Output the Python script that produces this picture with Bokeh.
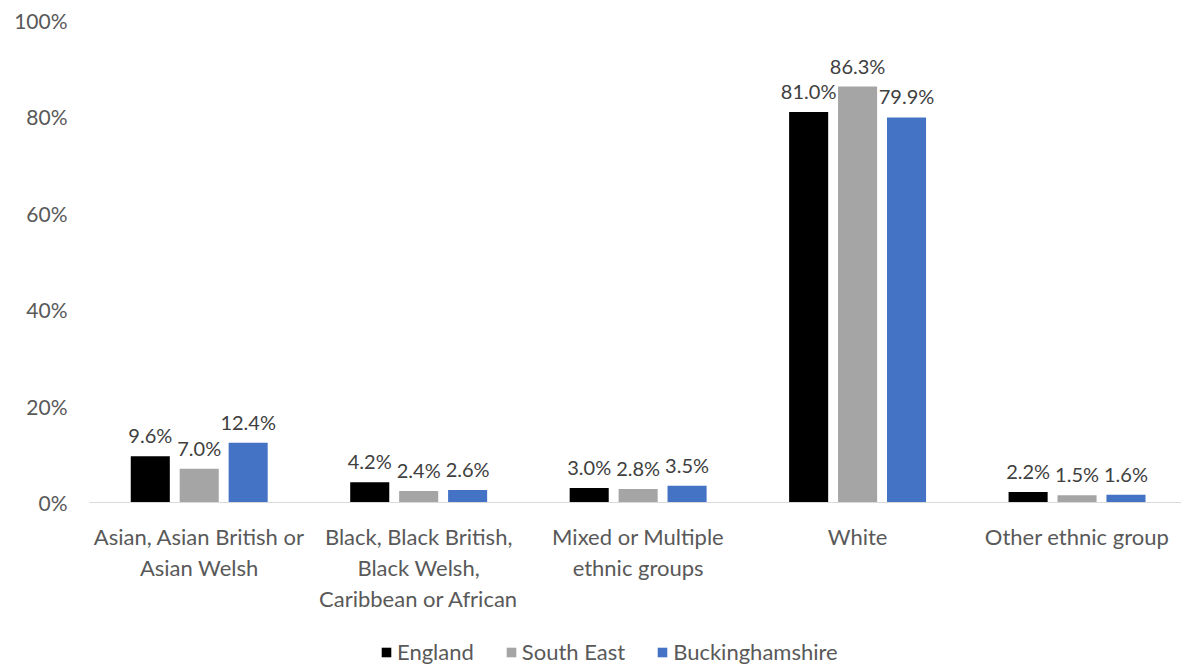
from bokeh.plotting import figure
from bokeh.layouts import column
from bokeh.models import FixedTicker, Legend, LegendItem, ColumnDataSource
from bokeh.core.properties import value
from bokeh.embed import file_html
from bokeh.resources import INLINE

categories = ["Asian, Asian British or\nAsian Welsh",
              "Black, Black British,\nBlack Welsh,\nCaribbean or African",
              "Mixed or Multiple\nethnic groups",
              "White",
              "Other ethnic group"]
series_names = ["England", "South East", "Buckinghamshire"]
england = [9.6, 4.2, 3.0, 81.0, 2.2]
south_east = [7.0, 2.4, 2.8, 86.3, 1.5]
bucks = [12.4, 2.6, 3.5, 79.9, 1.6]
y_ticks = [0, 20, 40, 60, 80, 100]

colors = ["#000000", "#a5a5a5", "#4472c4"]
FONT = "Lato"

p = figure(width=1181, height=615, output_backend="svg", toolbar_location=None,
           x_range=(-0.5, 4.476), y_range=(0, 100),
           min_border_left=89, min_border_right=0, min_border_top=20, min_border_bottom=111)
p.outline_line_color = None
p.grid.visible = False

xs = list(range(len(categories)))
offsets = [-0.223, 0.0, 0.223]
for vals, off, col in zip([england, south_east, bucks], offsets, colors):
    src = ColumnDataSource(dict(x=[x + off for x in xs], top=vals,
                                lab=["%.1f%%" % v for v in vals]))
    p.vbar(x="x", top="top", width=0.178, source=src, fill_color=col, line_color=None)
    p.text(x="x", y="top", text="lab", source=src, text_align="center", text_baseline="bottom",
           y_offset=-9, text_font=value(FONT), text_font_size="20px", text_color="#404040")

p.xaxis.ticker = FixedTicker(ticks=xs)
p.xaxis.major_label_overrides = {i: c for i, c in enumerate(categories)}
p.xaxis.major_tick_line_color = None
p.xaxis.minor_tick_line_color = None
p.xaxis.axis_line_color = "#d9d9d9"
p.xaxis.axis_line_width = 1
p.xaxis.major_label_text_font = FONT
p.xaxis.major_label_text_font_size = "22px"
p.xaxis.major_label_text_color = "#595959"
p.xaxis.major_label_text_line_height = 1.16
p.xaxis.major_label_standoff = 14

p.yaxis.ticker = FixedTicker(ticks=y_ticks)
p.yaxis.major_label_overrides = {t: "%d%%" % t for t in y_ticks}
p.yaxis.major_tick_line_color = None
p.yaxis.minor_tick_line_color = None
p.yaxis.axis_line_color = None
p.yaxis.major_label_text_font = FONT
p.yaxis.major_label_text_font_size = "21px"
p.yaxis.major_label_text_color = "#595959"
p.yaxis.major_label_standoff = 16

# legend strip below the chart
lg = figure(width=1181, height=50, output_backend="svg", toolbar_location=None,
            x_range=(0, 1), y_range=(0, 1), x_axis_location=None, y_axis_location=None,
            min_border_left=0, min_border_right=0, min_border_top=0, min_border_bottom=0)
lg.outline_line_color = None
lg.grid.visible = False
leg_renderers = []
for col in colors:
    # single off-range point so the renderer has data for its legend swatch
    leg_renderers.append(lg.vbar(x=[5], top=[1], width=0.1, fill_color=col, line_color=None))

legend = Legend(items=[LegendItem(label=n, renderers=[r]) for n, r in zip(series_names, leg_renderers)],
                orientation="horizontal", location=(291, 0),
                glyph_width=12, glyph_height=12, label_standoff=5, spacing=31,
                padding=0, margin=0, border_line_color=None, background_fill_alpha=0,
                label_text_font=FONT, label_text_font_size="22px", label_text_color="#595959")
lg.add_layout(legend, "center")

layout = column(p, lg, spacing=0)
open("out.html", "w").write(file_html(layout, INLINE))
